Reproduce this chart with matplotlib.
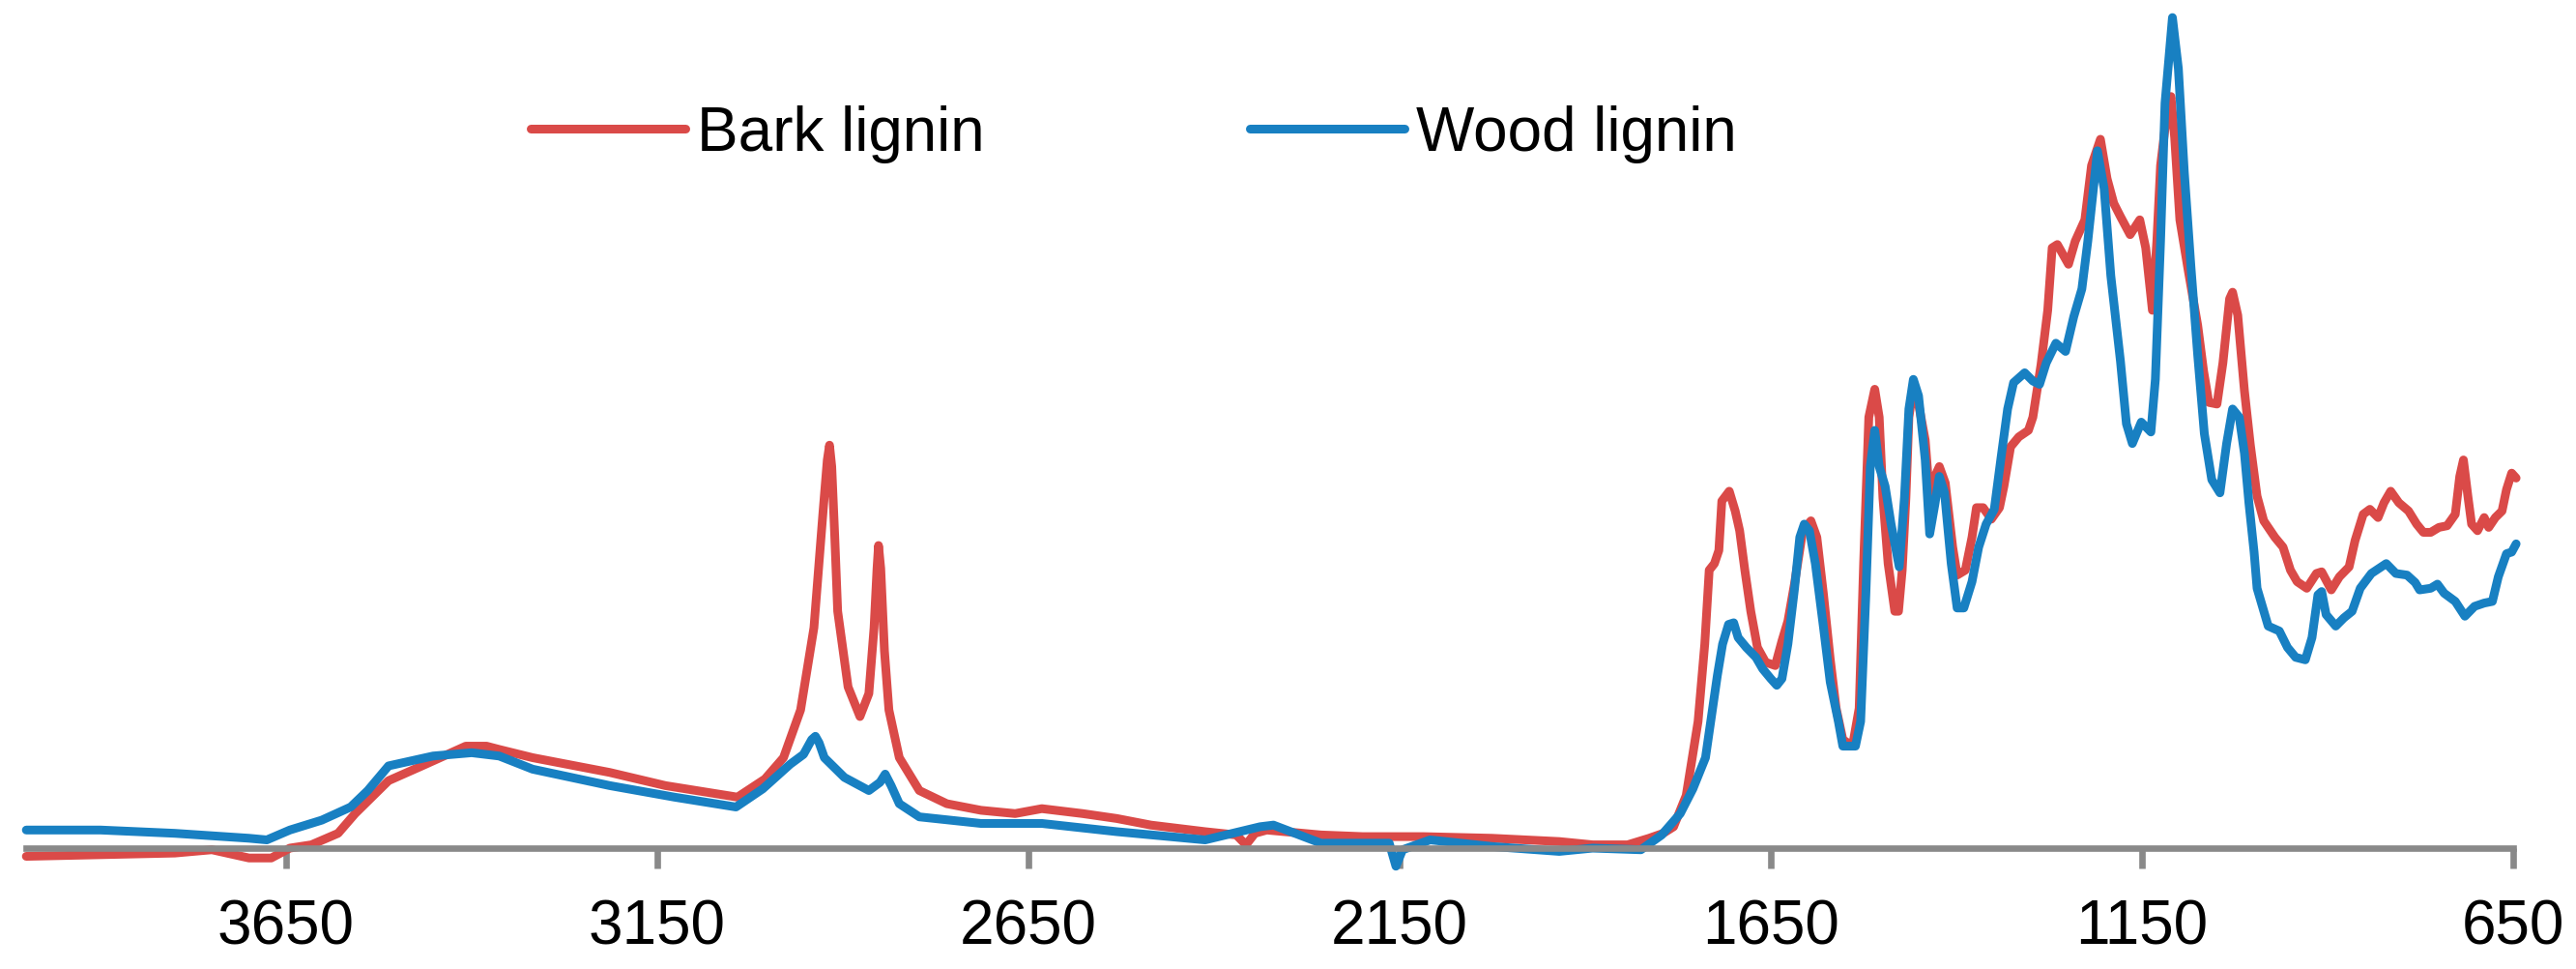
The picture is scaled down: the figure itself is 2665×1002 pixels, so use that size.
import matplotlib
matplotlib.use("Agg")
import matplotlib.pyplot as plt

plt.rcParams['font.family'] = ['Liberation Sans', 'DejaVu Sans']

# bark lignin spectrum (wavenumber, relative absorbance)
bark_wn = [4000, 3900, 3800, 3750, 3700, 3670, 3645, 3616, 3580, 3557, 3512, 3467, 3408, 3380,
           3363, 3318, 3214, 3139, 3042, 3005, 2980, 2957, 2939, 2927, 2921, 2918, 2915, 2911,
           2907, 2893, 2877, 2865, 2858, 2854, 2852, 2849, 2844, 2838, 2824, 2797, 2760, 2714,
           2668, 2632, 2577, 2531, 2485, 2412, 2370, 2357, 2345, 2329, 2256, 2200, 2164, 2118,
           2026, 1935, 1890, 1843, 1814, 1795, 1781, 1764,
           1748, 1739, 1733, 1726, 1720, 1716, 1706, 1698, 1692, 1685, 1677, 1668, 1657, 1644,
           1635, 1627, 1618, 1607, 1596, 1588, 1579, 1570, 1562, 1553, 1540, 1531, 1525, 1518,
           1510, 1504, 1499, 1492, 1483, 1478, 1473, 1468, 1464, 1458, 1451, 1442, 1436, 1427,
           1423, 1415, 1405, 1399, 1388, 1379, 1373, 1364, 1353, 1342, 1336, 1327, 1316, 1303,
           1297, 1286, 1277, 1271, 1264, 1249, 1240, 1227, 1218, 1206, 1197, 1188, 1179, 1166,
           1153, 1145, 1136, 1130, 1125, 1117, 1111, 1106, 1099, 1088, 1075, 1067, 1060, 1049,
           1041, 1032, 1028, 1021, 1012, 1004, 995, 986, 971, 960, 950, 941, 928, 915, 908, 895,
           884, 871, 863, 852, 843, 832, 824, 815, 804, 791, 780, 771, 761, 750, 739, 728, 722,
           717, 711, 706, 698, 689, 683, 674, 665, 659, 652, 646]
bark_abs = [-5, -4, -3, -1, -6, -6, 0, 2, 9, 21, 41, 50, 62, 62,
            60, 55, 46, 38, 31, 42, 55, 84, 134, 203, 236, 245, 232, 190,
            144, 98, 80, 94, 134, 170, 184, 170, 120, 84, 55, 35, 27, 23,
            21, 24, 21, 18, 14, 10, 8, 2, 9, 11, 8, 7, 7, 7,
            6, 4, 2, 2, 6, 9, 13, 32,
            77, 124, 169, 173, 181, 211, 217, 205, 193, 169, 144, 122, 113, 111,
            126, 138, 161, 193, 199, 189, 154, 115, 85, 66, 62, 85, 173, 262,
            279, 262, 213, 173, 144, 144, 169, 213, 262, 280, 270, 248, 213, 228,
            232, 222, 183, 166, 169, 189, 207, 207, 200, 207, 220, 244, 250, 254,
            262, 294, 327, 365, 367, 355, 369, 382, 415, 431, 407, 392, 384, 373,
            382, 365, 327, 369, 415, 445, 457, 432, 382, 352, 318, 290, 271, 270,
            295, 334, 338, 324, 278, 245, 214, 199, 189, 183, 169, 162, 158, 167, 168, 157,
            165, 171, 187, 203, 206, 201, 210, 217, 210, 205, 197, 192, 192, 195, 196, 203, 226,
            236, 214, 197, 193, 201, 195, 201, 205, 218, 228, 225]

# wood lignin spectrum
wood_wn = [4000, 3900, 3800, 3750, 3700, 3676, 3645, 3602, 3563, 3540, 3512, 3452, 3400, 3363,
           3318, 3214, 3127, 3044, 3008, 2971, 2953, 2942, 2937, 2932, 2925, 2898, 2865, 2850,
           2843, 2835, 2824, 2797, 2714, 2632, 2531, 2412, 2338, 2320, 2256, 2164, 2155, 2146,
           2109, 2026, 1935, 1890, 1825, 1797, 1772, 1755, 1738,
           1731, 1722, 1715, 1707, 1700, 1694, 1683, 1670, 1661, 1650, 1642, 1635, 1627, 1618,
           1611, 1605, 1598, 1590, 1579, 1570, 1559, 1553, 1536, 1529, 1522, 1516, 1510, 1504,
           1496, 1488, 1477, 1470, 1464, 1458, 1451, 1442, 1436, 1429, 1423, 1416, 1407, 1399,
           1390, 1379, 1370, 1360, 1349, 1340, 1331, 1323, 1308, 1297, 1288, 1279, 1266, 1253,
           1242, 1231, 1223, 1210, 1201, 1192, 1179, 1171, 1163, 1151, 1138, 1132, 1125, 1119,
           1109, 1101, 1093, 1084, 1075, 1066, 1056, 1045, 1036, 1028, 1019, 1012, 1006, 999,
           995, 980, 965, 954, 943, 930, 921, 913, 908, 902, 889, 878, 867, 856, 841, 821, 808,
           793, 782, 776, 761, 752, 743, 728, 715, 702, 689, 678, 670, 659, 652, 646]
wood_abs = [11, 11, 9, 7.5, 6, 5, 11, 17, 25, 35, 50, 56, 58, 56,
            48, 38, 31, 25, 36, 51, 57, 66, 68, 64, 55, 43, 35, 40,
            45, 38, 27, 19, 15, 15, 10, 5, 13, 14, 3, 3, -11, -1,
            5, 1, -2, 0, -1, 8, 21, 36, 55,
            77, 105, 124, 136, 137, 128, 122, 116, 109, 103, 99, 103, 124, 158,
            189, 197, 193, 173, 134, 101, 77, 62, 62, 77, 154, 232, 254, 232,
            220, 197, 171, 213, 267, 285, 275, 236, 191, 209, 226, 216, 173, 146,
            146, 162, 183, 197, 206, 237, 267, 283, 289, 284, 282, 295, 307, 302,
            323, 340, 369, 424, 401, 348, 296, 258, 246, 259, 253, 285, 369, 453,
            505, 474, 411, 353, 300, 252, 224, 216, 246, 267, 262, 240, 210, 180,
            158, 135, 132, 122, 116, 114.5, 128, 154, 156, 142, 135, 140, 144, 158, 167, 173, 167,
            166, 161.5, 157, 158, 160.5, 155, 150, 141, 147, 149, 150, 165, 179, 180, 185]

tick_vals = [3650, 3150, 2650, 2150, 1650, 1150, 650]

W, H = 2665, 1003
fig = plt.figure(figsize=(W / 100, H / 100), dpi=100)
unit = 1.7007  # pixels per absorbance unit
ybot = -15
ax = fig.add_axes([27.2 / W, (H - 878 + ybot * unit) / H, (2600 - 27.2) / W, (878 - ybot * unit) / H])

ax.plot(bark_wn, bark_abs, color='#DA4A48', lw=6.5, label='Bark lignin',
        solid_joinstyle='round', solid_capstyle='round', clip_on=False)
ax.plot(wood_wn, wood_abs, color='#1880C2', lw=6.5, label='Wood lignin',
        solid_joinstyle='round', solid_capstyle='round', clip_on=False)

ax.set_xlim(4000, 650)
ax.set_ylim(ybot, 878 / unit)
ax.set_xticks(tick_vals)
ax.set_xticklabels([str(t) for t in tick_vals])
ax.set_yticks([])

for s in ['top', 'right', 'left']:
    ax.spines[s].set_visible(False)
ax.spines['bottom'].set_position(('data', 0))
ax.spines['bottom'].set_color('#898989')
ax.spines['bottom'].set_linewidth(4.8)
ax.tick_params(axis='x', direction='out', length=15, width=4.8, color='#898989',
               labelsize=46, pad=22)

ax.legend(loc='center left', bbox_to_anchor=(549 / W, 1 - 139 / H),
          bbox_transform=fig.transFigure, ncol=2, frameon=False, fontsize=46,
          handlelength=2.5, handletextpad=0.19, columnspacing=4.3,
          borderpad=0, borderaxespad=0)

fig.savefig('out.png', dpi=100)
